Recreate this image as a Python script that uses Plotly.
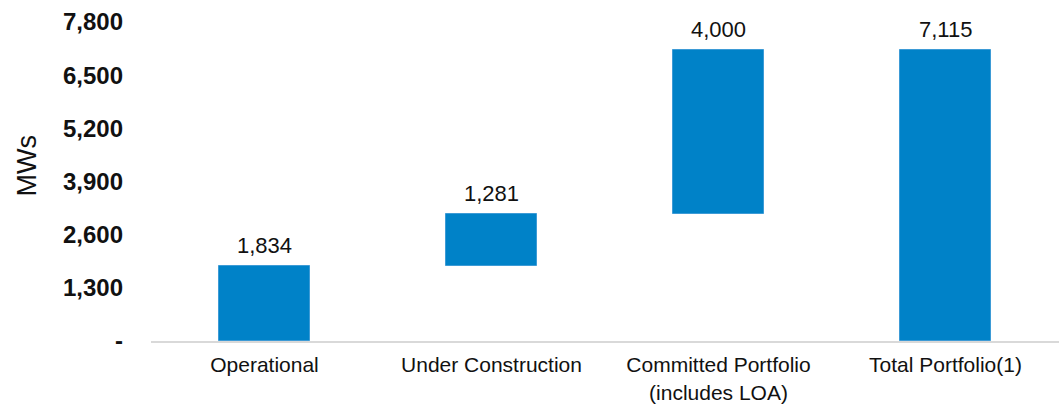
import plotly.graph_objects as go

# Portfolio build-up (MWs)
categories = ["Operational", "Under Construction", "Committed Portfolio<br>(includes LOA)", "Total Portfolio(1)"]
step_values = [1834, 1281, 4000]
total_value = 7115
y_ticks = [0, 1300, 2600, 3900, 5200, 6500, 7800]
y_tick_text = ["-", "1,300", "2,600", "3,900", "5,200", "6,500", "7,800"]

BAR_COLOR = "#0082C8"
EDGE_COLOR = "#3D9BD6"

# floating steps start where the previous one ended; the total starts at zero
bases = []
running = 0
for v in step_values:
    bases.append(running)
    running += v
heights = step_values + [total_value]
bases = bases + [0]
tops = [b + h for b, h in zip(bases, heights)]

fig = go.Figure()
fig.add_trace(go.Bar(
    x=categories,
    y=heights,
    base=bases,
    width=0.405,
    marker=dict(color=BAR_COLOR, line=dict(color=EDGE_COLOR, width=1)),
    hoverinfo="skip",
))

# value labels above each bar
for cat, top, h in zip(categories, tops, heights):
    fig.add_annotation(
        x=cat, y=top, text=f"{h:,}", showarrow=False,
        yanchor="bottom", yshift=6,
        font=dict(family="Liberation Sans, Arial", size=22, color="#111111"),
    )

# axis title
fig.add_annotation(
    xref="paper", yref="paper", x=(27 - 151) / 908, y=(340 - 166) / 318,
    text="MWs", textangle=-90, showarrow=False,
    xanchor="center", yanchor="middle",
    font=dict(family="Liberation Sans, Arial", size=27, color="#111111"),
)

fig.update_layout(
    width=1059, height=405,
    margin=dict(l=151, r=0, t=22, b=64),
    plot_bgcolor="white", paper_bgcolor="white",
    showlegend=False,
    bargap=0,
    font=dict(family="Liberation Sans, Arial", color="#111111"),
)
fig.update_xaxes(
    showline=True, linecolor="#D9D9D9", linewidth=2,
    ticks="", showgrid=False, automargin=False,
    tickfont=dict(size=21, color="#111111"),
    ticklabelstandoff=4,
)
fig.update_yaxes(
    range=[0, 7800], tickvals=y_ticks, ticktext=y_tick_text,
    showgrid=False, zeroline=False, showline=False, ticks="",
    automargin=False,
    tickfont=dict(size=24, color="#111111", weight="bold"),
    ticklabelstandoff=27,
)

fig.write_html("out.html")
